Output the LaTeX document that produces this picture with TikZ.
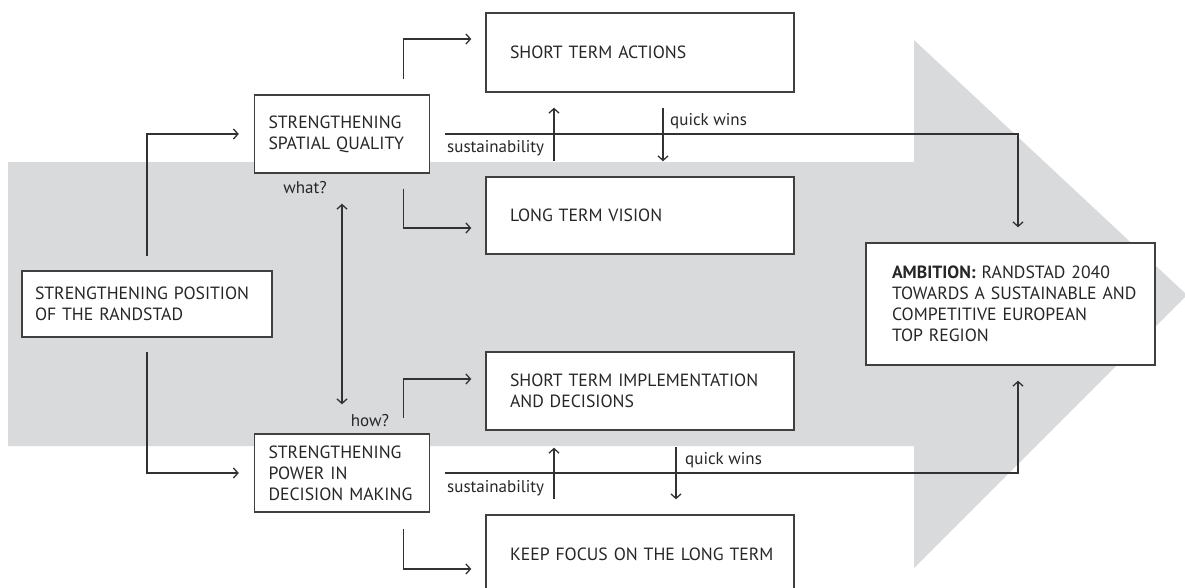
\documentclass[tikz,border=0pt]{standalone}
\usepackage{fontspec}
\setmainfont{PT Sans}
\usepackage{xcolor}
\usepackage{tikz}
\usetikzlibrary{arrows,arrows.meta}

\definecolor{bandgray}{RGB}{217,218,220}
\definecolor{linegray}{RGB}{50,50,50}
\definecolor{boxgray}{RGB}{64,64,64}

\tikzset{
  box/.style={draw=boxgray, line width=1.4pt, fill=white, align=left,
    inner xsep=14pt, inner ysep=0pt, text width=#1, text=black!85,
    font=\fontsize{17.7}{21}\selectfont},
  wide/.style={box=270pt, inner xsep=19pt, execute at begin node={\leftskip=5pt}},
  conn/.style={draw=linegray, line width=1.3pt, ->, >={Straight Barb[length=4.5pt,width=10pt]}},
  lbl/.style={inner sep=0pt, text=black!85, font=\fontsize{17}{19}\selectfont}
}

\begin{document}
\begin{tikzpicture}[x=1pt,y=-1pt]
    \useasboundingbox (0,0) rectangle (1185,587);
    % big arrow in the back
    \fill[bandgray] (8,162) -- (914,162) -- (914,40) -- (1187,295)
        -- (914,568) -- (914,446) -- (8,446) -- cycle;

    \node[box=224pt, inner xsep=13pt, minimum height=66pt] (spor) at (147,304)
        {STRENGTHENING POSITION\\OF THE RANDSTAD};
    \node[box=147pt, minimum height=78pt] (ssq) at (342,134)
        {STRENGTHENING\\SPATIAL QUALITY};
    \node[box=147pt, minimum height=78pt] (spdm) at (342,473)
        {STRENGTHENING\\POWER IN\\DECISION MAKING};
    \node[wide, minimum height=79pt] (sta) at (640,52.5) {SHORT TERM ACTIONS};
    \node[wide, minimum height=77pt] (ltv) at (640,215.5) {LONG TERM VISION};
    \node[wide, minimum height=78pt] (stid) at (640,391)
        {SHORT TERM IMPLEMENTATION\\AND DECISIONS};
    \node[wide, minimum height=78pt] (kflt) at (640,554) {KEEP FOCUS ON THE LONG TERM};
    \node[box=255pt, inner xsep=17pt, minimum height=122pt,
          execute at begin node={\leftskip=9pt}] (amb) at (1010.5,304)
        {\textbf{AMBITION:} RANDSTAD 2040\\TOWARDS A SUSTAINABLE AND\\COMPETITIVE EUROPEAN\\TOP REGION};

    % from the position to both strands
    \draw[conn, shorten <=14pt, shorten >=15pt] (spor.north) |- (ssq.west);
    \draw[conn, shorten <=14pt, shorten >=15pt] (spor.south) |- (spdm.west);
    \draw[conn, <->, shorten <=30pt, shorten >=29pt] (ssq.south) -- (spdm.north);
    \node[lbl] (what) at (305,188) {what?};
    \node[lbl] (how) at (370,421) {how?};

    % spatial quality
    \draw[conn, shorten <=15pt, shorten >=14pt] ([xshift=-27pt]ssq.north east) |- ([yshift=13.5pt]sta.west);
    \draw[conn, shorten <=15pt, shorten >=14pt] ([xshift=-27pt]ssq.south east) |- ([yshift=-12.5pt]ltv.west);
    \draw[conn, shorten <=15pt, shorten >=15pt] (ssq.east) -| ([xshift=7.5pt]amb.north);
    \draw[conn, shorten <=15pt, shorten >=15pt] ([xshift=-86pt]ltv.north) -- ([xshift=-86pt]sta.south);
    \draw[conn, shorten <=15pt, shorten >=15pt] ([xshift=23pt]sta.south) -- ([xshift=23pt]ltv.north);
    \node[lbl, anchor=west] (sus1) at (447,148) {sustainability};
    \node[lbl, anchor=west] (qw1) at (670,121) {quick wins};

    % decision making
    \draw[conn, shorten <=15pt, shorten >=14pt] ([xshift=-27pt]spdm.north east) |- ([yshift=12pt]stid.west);
    \draw[conn, shorten <=16pt, shorten >=14pt] ([xshift=-27pt]spdm.south east) |- ([yshift=-15pt]kflt.west);
    \draw[conn, shorten <=15pt, shorten >=15pt] (spdm.east) -| ([xshift=7.5pt]amb.south);
    \draw[conn, shorten <=15pt, shorten >=17pt] ([xshift=-86pt]kflt.north) -- ([xshift=-86pt]stid.south);
    \draw[conn, shorten <=16pt, shorten >=15pt] ([xshift=36pt]stid.south) -- ([xshift=36pt]kflt.north);
    \node[lbl, anchor=west] (sus2) at (447,488) {sustainability};
    \node[lbl, anchor=west] (qw2) at (685,460) {quick wins};
\end{tikzpicture}
\end{document}
